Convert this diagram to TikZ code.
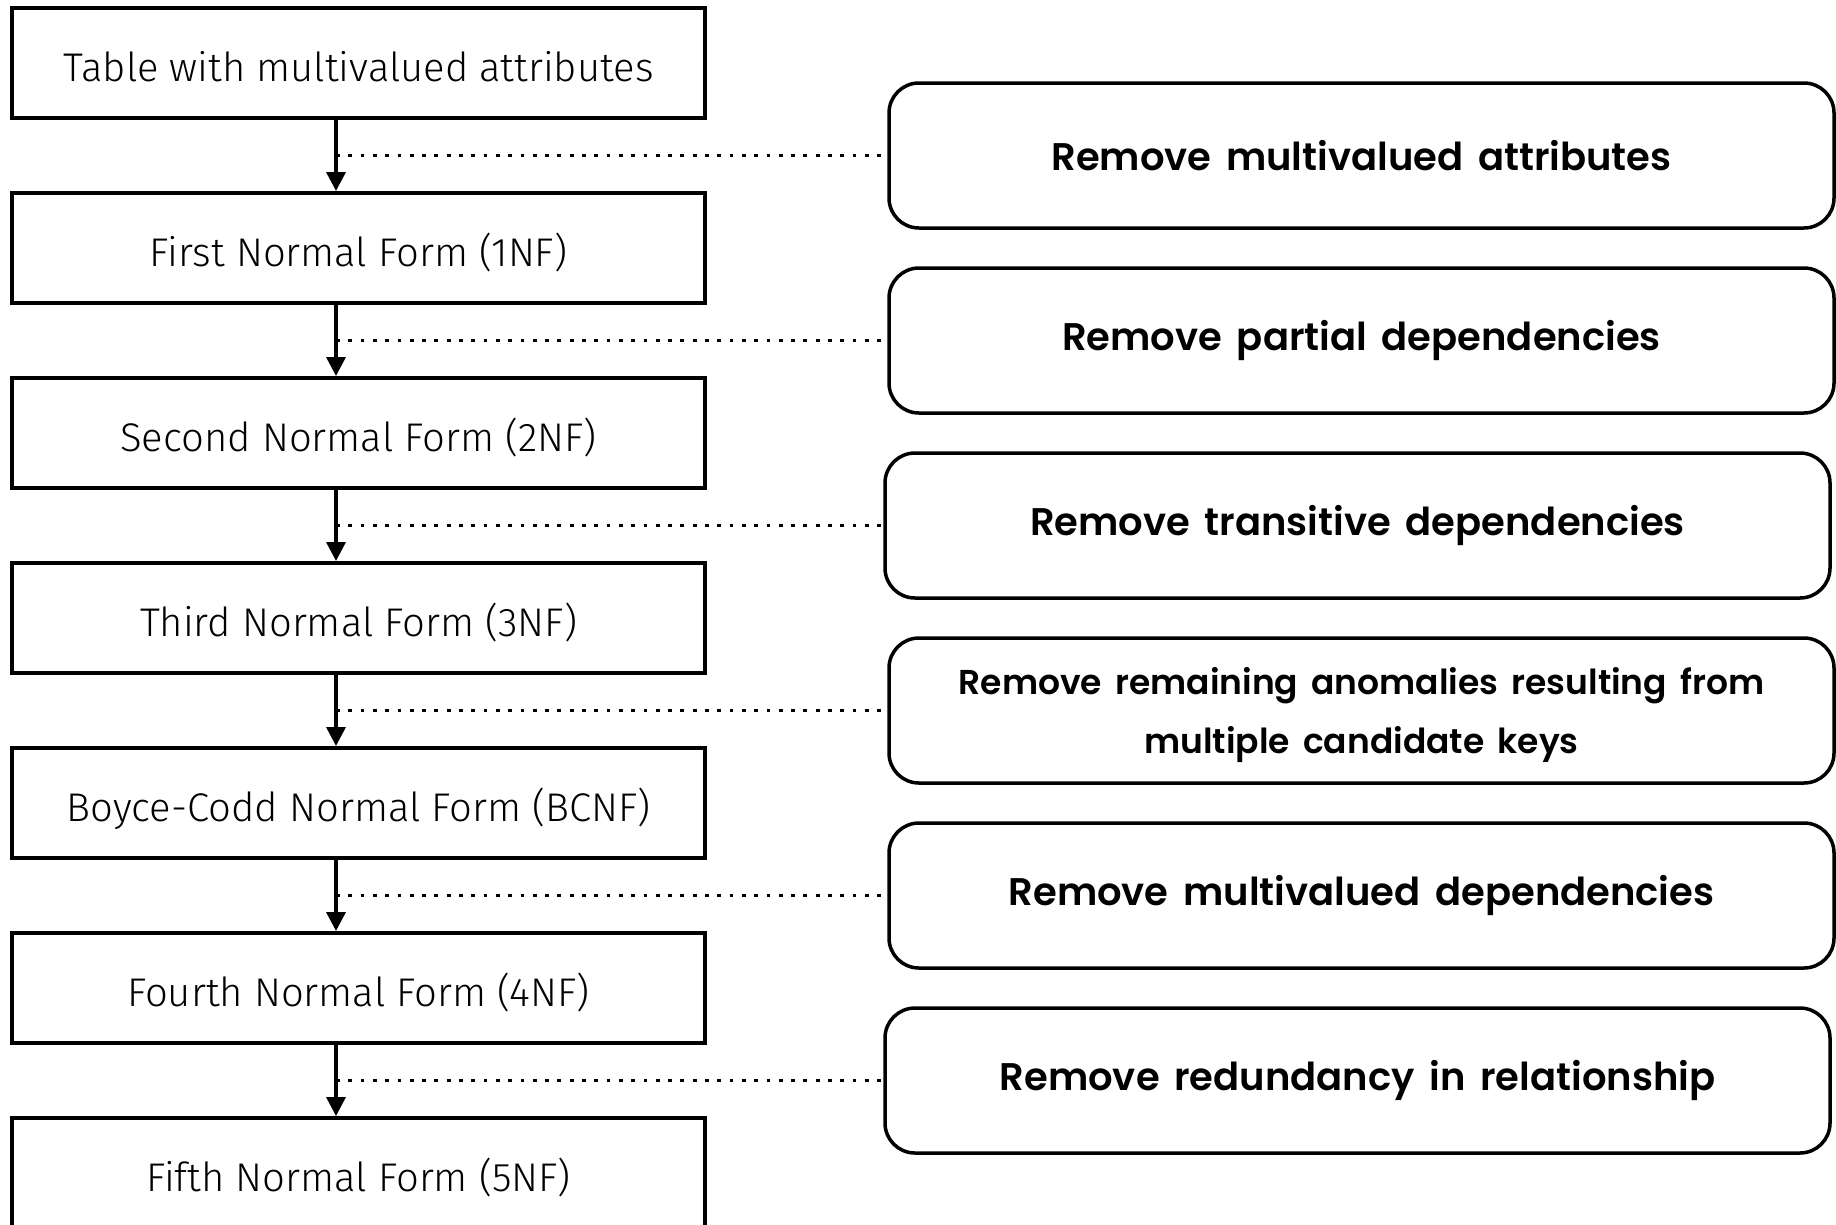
\documentclass[tikz,border=0pt]{standalone}
\usepackage{fontspec}
\setmainfont{Fira Sans}
\newfontfamily\lightfont{Fira Sans Light}
\newfontfamily\boldfont{Poppins SemiBold}[WordSpace=1.6]
\usetikzlibrary{arrows.meta}
\begin{document}
\begin{tikzpicture}[x=1pt,y=-1pt,
  formbox/.style={draw, line width=4pt, minimum width=693pt, minimum height=110pt,
    inner sep=0pt, text height=37pt, text depth=0pt,
    font=\lightfont\fontsize{40}{44}\selectfont},
  stepbox/.style={draw, line width=3.5pt, rounded corners=30pt, minimum width=945pt,
    minimum height=145pt, inner sep=0pt, align=center,
    font=\boldfont\fontsize{38.5}{58}\selectfont},
  smalltext/.style={font=\boldfont\fontsize{34.5}{58.5}\selectfont},
  flow/.style={line width=3.5pt, -{Triangle[length=19pt,width=19pt]}},
  dotline/.style={line width=3.8pt, dash pattern=on 3.8pt off 8.5pt}]
\useasboundingbox (0,0) rectangle (1836,1224);
\clip (0,0) rectangle (1836,1224);
\fill[white] (0,0) rectangle (1836,1224);
\coordinate (ax) at (336,0);
% normal form chain
\node[formbox] (f1) at (358.5,63)   {Table with multivalued attributes};
\node[formbox] (f2) at (358.5,248)  {First Normal Form (1NF)};
\node[formbox] (f3) at (358.5,433)  {Second Normal Form (2NF)};
\node[formbox] (f4) at (358.5,618)  {Third Normal Form (3NF)};
\node[formbox] (f5) at (358.5,803)  {Boyce-Codd Normal Form (BCNF)};
\node[formbox] (f6) at (358.5,988)  {Fourth Normal Form (4NF)};
\node[formbox] (f7) at (358.5,1173) {Fifth Normal Form (5NF)};
% transformation steps
\node[stepbox] (r1) at (1361.5,155.5)  {Remove multivalued attributes};
\node[stepbox] (r2) at (1361.5,340.5)  {Remove partial dependencies};
\node[stepbox] (r3) at (1357.5,525.5)  {Remove transitive dependencies};
\node[stepbox, smalltext] (r4) at (1361.5,710.5)  {\rule{0pt}{1.05em}Remove remaining anomalies resulting from\\multiple candidate keys};
\node[stepbox] (r5) at (1361.5,895.5)  {Remove multivalued dependencies};
\node[stepbox] (r6) at (1357.5,1080.5) {Remove redundancy in relationship};
% arrows and dotted links
\foreach \a/\b/\r in {f1/f2/r1, f2/f3/r2, f3/f4/r3, f4/f5/r4, f5/f6/r5, f6/f7/r6} {
  \draw[flow] (\a.south -| ax) -- (\b.north -| ax);
  \draw[dotline] (\r.west -| ax) -- (\r.west);
}
\end{tikzpicture}
\end{document}
